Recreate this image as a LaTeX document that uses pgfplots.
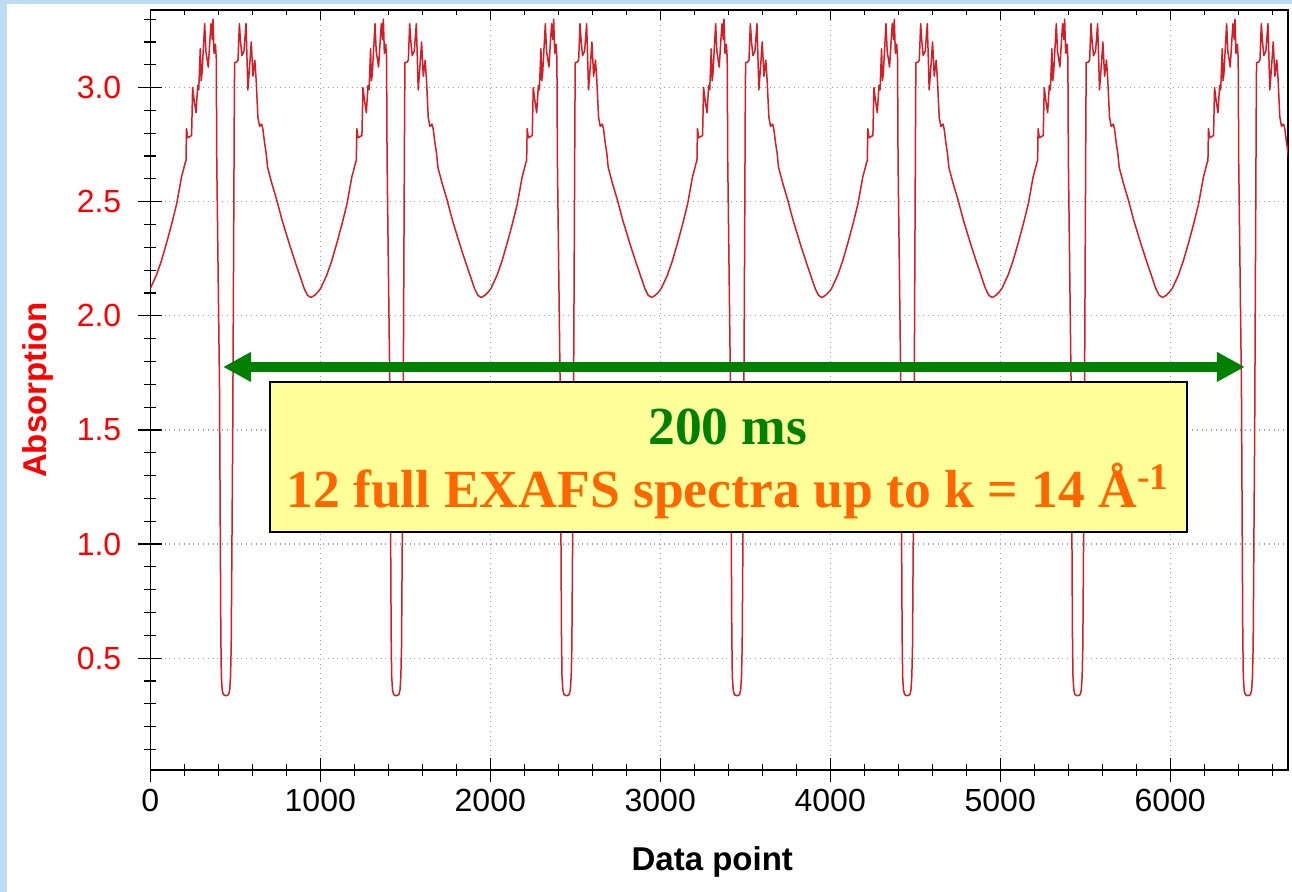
\documentclass[border=0pt]{standalone}
\usepackage{fontspec}
\setmainfont{Liberation Sans}
\newfontfamily\timesfont{Liberation Serif}
\usepackage{pgfplots}
\pgfplotsset{compat=1.18}
\usepackage{pgfplotstable}
\usetikzlibrary{arrows.meta}
\definecolor{slideblue}{RGB}{190,220,242}
\definecolor{curvered}{RGB}{212,30,38}
\definecolor{arrowgreen}{RGB}{0,128,0}
\definecolor{boxyellow}{RGB}{255,255,153}
\definecolor{txtorange}{RGB}{255,102,0}

% one row per point of a period; columns p0..p6 are the x positions in each of the 7 periods
\pgfplotstableread{
y     p0   p1   p2   p3   p4   p5   p6
2.08  -57  945  1947 2949 3951 4953 5955
2.09  -35  967  1969 2971 3973 4975 5977
2.105 -15  987  1989 2991 3993 4995 5997
2.12  0    1002 2004 3006 4008 5010 6012
2.16  25   1027 2029 3031 4033 5035 6037
2.18  37   1039 2041 3043 4045 5047 6049
2.24  65   1067 2069 3071 4073 5075 6077
2.32  96   1098 2100 3102 4104 5106 6108
2.40  125  1127 2129 3131 4133 5135 6137
2.49  155  1157 2159 3161 4163 5165 6167
2.61  184  1186 2188 3190 4192 5194 6196
2.64  195  1197 2199 3201 4203 5205 6207
2.67  205  1207 2209 3211 4213 5215 6217
2.68  210  1212 2214 3216 4218 5220 6222
2.82  213  1215 2217 3219 4221 5223 6225
2.78  220  1222 2224 3226 4228 5230 6232
2.79  243  1245 2247 3249 4251 5253 6255
3.00  249  1251 2253 3255 4257 5259 6261
2.95  257  1259 2261 3263 4265 5267 6269
2.89  269  1271 2273 3275 4277 5279 6281
3.01  279  1281 2283 3285 4287 5289 6291
2.99  285  1287 2289 3291 4293 5295 6297
3.17  294  1296 2298 3300 4302 5304 6306
3.03  299  1301 2303 3305 4307 5309 6311
3.06  304  1306 2308 3310 4312 5314 6316
3.28  320  1322 2324 3326 4328 5330 6332
3.16  327  1329 2331 3333 4335 5337 6339
3.09  341  1343 2345 3347 4349 5351 6353
3.20  350  1352 2354 3356 4358 5360 6362
3.28  357  1359 2361 3363 4365 5367 6369
3.21  365  1367 2369 3371 4373 5375 6377
3.30  369  1371 2373 3375 4377 5379 6381
3.15  375  1377 2379 3381 4383 5385 6387
3.19  383  1385 2387 3389 4391 5393 6395
3.13  388  1390 2392 3394 4396 5398 6400
2.68  391  1393 2395 3397 4399 5401 6403
1.70  407  1409 2411 3413 4415 5417 6419
0.60  415  1417 2419 3421 4423 5425 6427
0.42  418  1420 2422 3424 4426 5428 6430
0.36  423  1425 2427 3429 4431 5433 6435
0.34  430  1432 2434 3436 4438 5440 6442
0.335 445  1447 2449 3451 4453 5455 6457
0.34  460  1462 2464 3466 4468 5470 6472
0.36  467  1469 2471 3473 4475 5477 6479
0.42  472  1474 2476 3478 4480 5482 6484
0.55  476  1478 2480 3482 4484 5486 6488
1.50  485  1487 2489 3491 4493 5495 6497
2.89  494  1496 2498 3500 4502 5504 6506
3.11  496  1498 2500 3502 4504 5506 6508
3.11  506  1508 2510 3512 4514 5516 6518
3.12  516  1518 2520 3522 4524 5526 6528
3.28  524  1526 2528 3530 4532 5534 6536
3.20  531  1533 2535 3537 4539 5541 6543
3.14  539  1541 2543 3545 4547 5549 6551
3.16  551  1553 2555 3557 4559 5561 6563
3.28  563  1565 2567 3569 4571 5573 6575
3.10  570  1572 2574 3576 4578 5580 6582
2.99  574  1576 2578 3580 4582 5584 6586
3.10  585  1587 2589 3591 4593 5595 6597
3.20  594  1596 2598 3600 4602 5604 6606
3.05  604  1606 2608 3610 4612 5614 6616
3.12  615  1617 2619 3621 4623 5625 6627
3.03  623  1625 2627 3629 4631 5633 6635
2.87  633  1635 2637 3639 4641 5643 6645
2.83  643  1645 2647 3649 4651 5653 6655
2.84  655  1657 2659 3661 4663 5665 6667
2.82  662  1664 2666 3668 4670 5672 6674
2.76  672  1674 2676 3678 4680 5682 6684
2.71  682  1684 2686 3688 4690 5692 6694
2.65  690  1692 2694 3696 4698 5700 6702
2.58  715  1717 2719 3721 4723 5725 6727
2.51  743  1745 2747 3749 4751 5753 6755
2.42  775  1777 2779 3781 4783 5785 6787
2.31  820  1822 2824 3826 4828 5830 6832
2.23  855  1857 2859 3861 4863 5865 6867
2.18  878  1880 2882 3884 4886 5888 6890
2.12  905  1907 2909 3911 4913 5915 6917
2.09  925  1927 2929 3931 4933 5935 6937
2.08  945  1947 2949 3951 4953 5955 6957
}\spectra

\begin{document}
\begin{tikzpicture}[x=1pt,y=1pt]
\fill[slideblue] (0,0) rectangle (646,446);
\fill[white] (3.5,0) rectangle (646,444);
\begin{axis}[
  at={(75.15pt,61pt)}, anchor=south west,
  scale only axis, width=568.85pt, height=380pt,
  xmin=0, xmax=6693, ymin=0.01, ymax=3.34,
  xtick={0,1000,...,6000}, ytick={0.5,1.0,...,3.0},
  minor xtick={200,400,...,6600}, minor ytick={0.1,0.2,...,3.3},
  xtick pos=left, ytick pos=left, tick align=center,
  major tick length=12pt, minor tick length=6pt,
  every tick/.style={black, line width=0.6pt},
  grid=major, major grid style={gray!75, dotted, line width=0.6pt},
  axis line style={black, line width=0.7pt},
  /pgf/number format/assume math mode=true,
  ticklabel style={font=\fontsize{16}{19}\selectfont},
  yticklabel style={text=red, xshift=-5pt, /pgf/number format/fixed, /pgf/number format/fixed zerofill, /pgf/number format/precision=1},
  xticklabel style={text=black, /pgf/number format/1000 sep={}},
  xlabel={Data point}, ylabel={Absorption},
  xlabel style={font=\fontsize{16.5}{20}\selectfont\bfseries, at={(axis description cs:0.494,-0.121)}, anchor=center},
  ylabel style={text=red, font=\fontsize{16.5}{20}\selectfont\bfseries, at={(axis description cs:-0.0991,0.5)}, anchor=center},
]
\addplot[curvered, line width=0.75pt, line join=round] table[x=p0,y=y]{\spectra};
\addplot[curvered, line width=0.75pt, line join=round] table[x=p1,y=y]{\spectra};
\addplot[curvered, line width=0.75pt, line join=round] table[x=p2,y=y]{\spectra};
\addplot[curvered, line width=0.75pt, line join=round] table[x=p3,y=y]{\spectra};
\addplot[curvered, line width=0.75pt, line join=round] table[x=p4,y=y]{\spectra};
\addplot[curvered, line width=0.75pt, line join=round] table[x=p5,y=y]{\spectra};
\addplot[curvered, line width=0.75pt, line join=round] table[x=p6,y=y]{\spectra};
\draw[black, line width=1.2pt, fill=boxyellow] (axis cs:704,1.052) rectangle (axis cs:6099,1.709);
\draw[arrowgreen, line width=5pt, {Triangle[length=14pt,width=14pt]}-{Triangle[length=14pt,width=14pt]}] (axis cs:428,1.776) -- (axis cs:6439,1.776);
\node[anchor=base, font=\fontsize{26.8}{31}\selectfont\timesfont\bfseries, text=arrowgreen] at (axis cs:3398,1.434) {200 ms};
\node[anchor=base, font=\fontsize{26.8}{31}\selectfont\timesfont\bfseries, text=txtorange] at (axis cs:3398,1.158) {12 full EXAFS spectra up to k = 14 Å\textsuperscript{-1}};
\end{axis}
\begin{axis}[
  at={(75.15pt,61pt)}, anchor=south west,
  scale only axis, width=568.85pt, height=380pt,
  xmin=0, xmax=6693, ymin=0.01, ymax=3.34,
  xtick={0,1000,...,6000}, minor xtick={200,400,...,6600},
  xticklabels={}, ytick=\empty,
  xtick pos=right, tick align=inside,
  major tick length=5pt, minor tick length=2.5pt,
  every tick/.style={black, line width=0.6pt},
  axis line style={draw=none},
]
\end{axis}
\pgfresetboundingbox
\path[use as bounding box] (0,0) rectangle (646,446);
\end{tikzpicture}
\end{document}
